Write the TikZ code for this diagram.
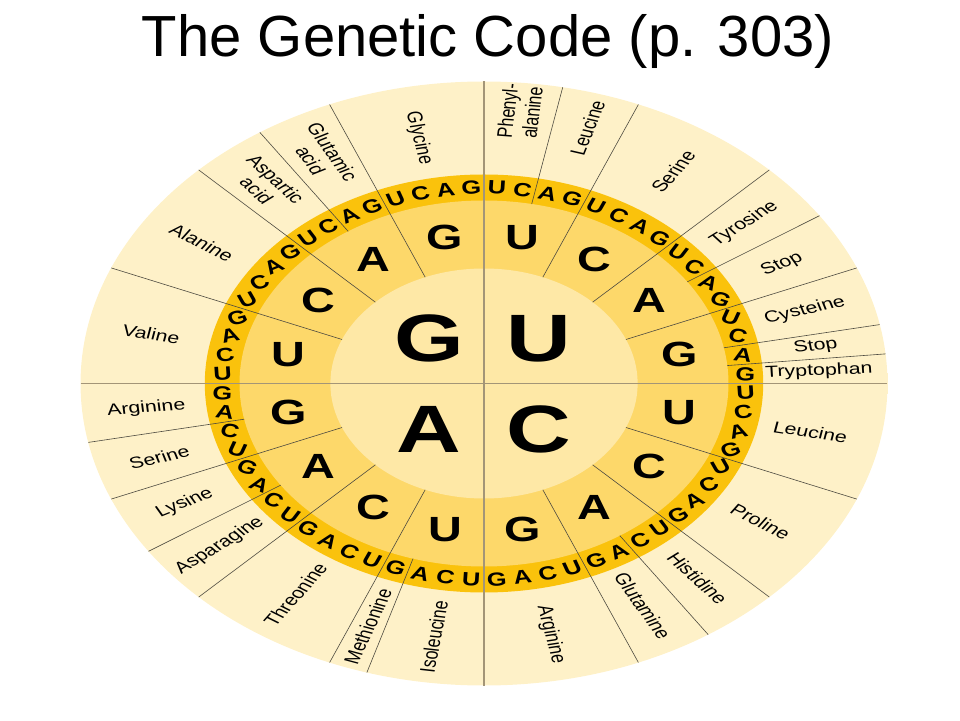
\documentclass[tikz,border=0pt]{standalone}
\usepackage{fontspec}
\setmainfont{Liberation Sans}
\usepackage{xcolor}
\definecolor{rimpale}{HTML}{FEF1C8}
\definecolor{rimedge}{HTML}{FFF8E2}
\definecolor{ringgold}{HTML}{FAC20C}
\definecolor{ringmid}{HTML}{FDD86A}
\definecolor{corelight}{HTML}{FEE8A6}
\definecolor{quadline}{HTML}{A39577}
\definecolor{splitline}{HTML}{4D4A40}
\pgfdeclareradialshading{rimfade}{\pgfpoint{0bp}{0bp}}{color(0bp)=(rimpale); color(37bp)=(rimpale); color(50bp)=(rimedge)}

\begin{document}
\begin{tikzpicture}[x=1pt,y=1pt,
    core/.style={font=\bfseries\fontsize{67}{67}\selectfont,inner sep=0pt},
    second/.style={font=\bfseries\fontsize{35}{35}\selectfont,inner sep=0pt},
    third/.style={font=\bfseries\fontsize{19}{19}\selectfont,inner sep=0pt},
    amino/.style={font=\fontsize{16}{18.5}\selectfont,align=center,inner sep=0pt},
    quad/.style={draw=quadline,line width=1.2pt},
    split/.style={draw=splitline,line width=0.6pt}]
  \useasboundingbox (0,0) rectangle (960,720);
  \node[font=\fontsize{58}{58}\selectfont,anchor=base] (title) at (488,663) {The Genetic Code (p. 303)};

  \begin{scope}[shift={(484,336.5)},xscale=1.336,transform shape]
    \shade[shading=rimfade] (0,0) circle (302);
    \fill[ringgold]  (0,0) circle (209);
    \fill[ringmid]   (0,0) circle (183);
    \fill[corelight] (0,0) circle (115);

    \foreach \a in {22.5,45,67.5,112.5,135,157.5,202.5,225,247.5,292.5,315,337.5}
      \draw[split] (\a:115) -- (\a:302);
    \foreach \a in {78.75,33.75,11.25,5.625,-56.25,253.125,213.75,191.25,123.75}
      \draw[split] (\a:183) -- (\a:302);
    \draw[quad] (90:302) -- (270:302);
    \draw[quad] (180:302) -- (0:302);

    \node[core] (core-G) at (-41,45)  {G};
    \node[core] (core-U) at (41,45)   {U};
    \node[core] (core-A) at (-41,-46) {A};
    \node[core] (core-C) at (41,-46)  {C};

    \foreach \s [count=\q] in {90,0,-90,180}
      \foreach \b [count=\k from 0] in {U,C,A,G}
        \node[second] (second-\q-\k) at ({\s-11.25-22.5*\k}:149) {\b};

    \foreach \s [count=\q] in {90,0,-90,180}
      \foreach \k in {0,1,2,3}
        \foreach \c [count=\m from 0] in {U,C,A,G} {
          \pgfmathsetmacro\ang{\s-22.5*\k-5.625*\m-2.8125}
          \pgfmathsetmacro\tilt{-30*sin(2*\ang)}
          \node[third,rotate=\tilt] (third-\q-\k-\m) at (\ang:196) {\c};
        }

    \foreach \a/\r/\txt [count=\n] in {84.375/273/Phenyl-\\alanine, 73.125/267/Leucine,
        56.25/255/Serine, 39.375/252/Tyrosine, 28.125/253/Stop, 16.875/251/Cysteine,
        8.4375/251/Stop, 2.8125/251/Tryptophan,
        -11.25/249/Leucine, -33.75/249/Proline, -50.625/252/Histidine,
        -61.875/252/Glutamine, -78.75/256/Arginine,
        261.5625/256/Isoleucine, 250.3125/258/Methionine, 236.25/254/Threonine,
        219.375/256/Asparagine, 208.125/254/Lysine, 196.875/254/Serine, 185.625/254/Arginine,
        168.75/254/Valine, 146.25/254/Alanine, 129.375/257/Aspartic\\acid,
        118.125/258/Glutamic\\acid, 101.25/250/Glycine} {
      \pgfmathsetmacro\turn{cos(\a)>0 ? \a : \a-180}
      \node[amino,rotate=\turn] (amino-\n) at (\a:\r) {\txt};
    }
  \end{scope}
\end{tikzpicture}
\end{document}
